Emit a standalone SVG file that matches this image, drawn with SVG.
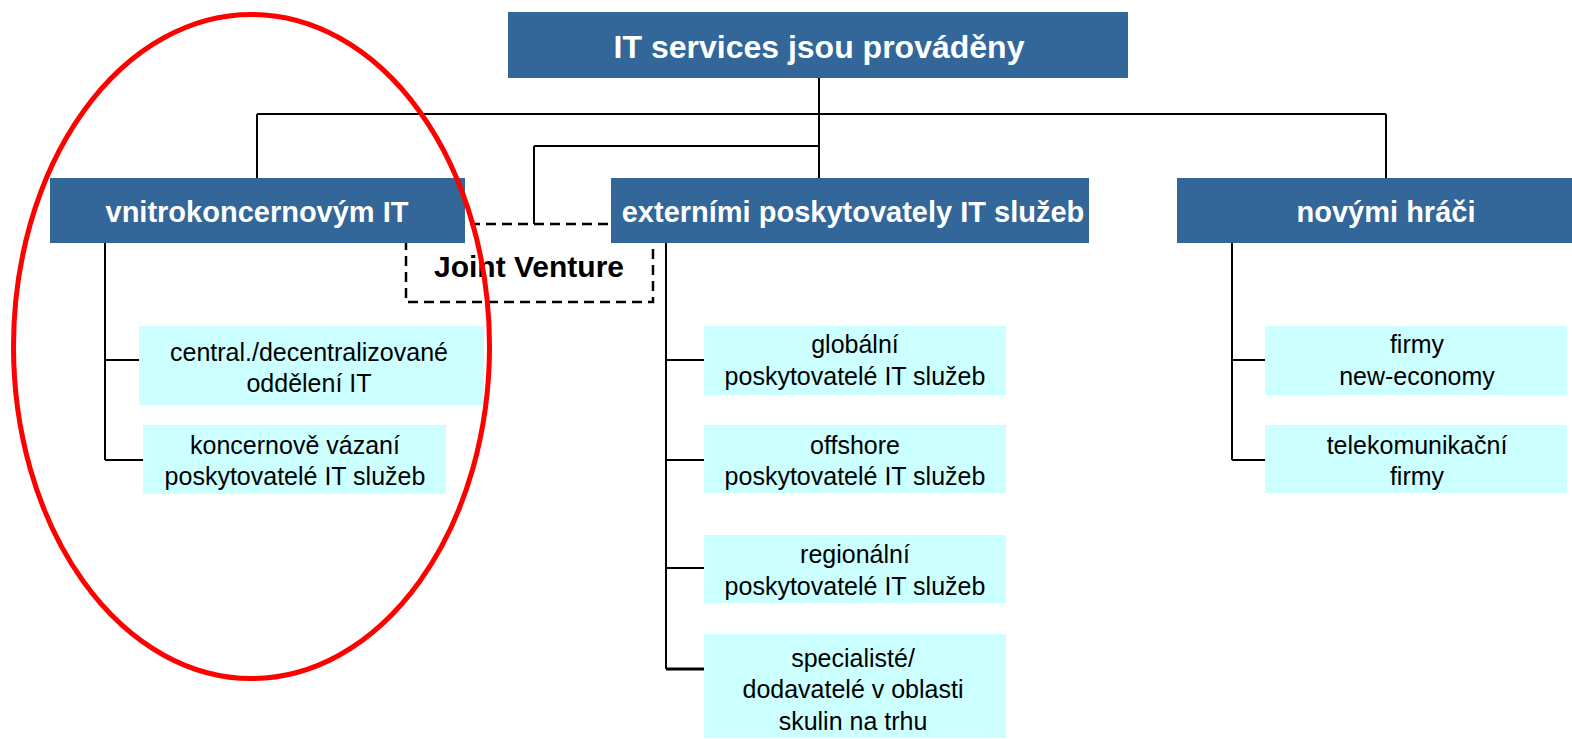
<svg xmlns="http://www.w3.org/2000/svg" width="1572" height="739" viewBox="0 0 1572 739">
<style>
.blue{fill:#336699}
.cyan{fill:#CCFFFF}
.hd{font-family:"Liberation Sans",Arial,sans-serif;font-weight:bold;fill:#FFFFFF;text-anchor:middle}
.lb{font-family:"Liberation Sans",Arial,sans-serif;font-size:25px;fill:#000000;text-anchor:middle}
.ln{stroke:#000000;stroke-width:2;fill:none}
</style>
<rect width="1572" height="739" fill="#FFFFFF"/>
<g id="connectors" class="ln">
<path d="M819 78V178"/>
<path d="M257 114H1386"/>
<path d="M257 114V178"/>
<path d="M1386 114V178"/>
<path d="M534 146H819"/>
<path d="M534 146V224"/>
<path d="M105 243V460"/>
<path d="M105 360H139"/>
<path d="M105 460H143"/>
<path d="M666 243V669"/>
<path d="M666 360H704"/>
<path d="M666 460H704"/>
<path d="M666 568H704"/>
<path d="M666 669H704" stroke-width="3"/>
<path d="M1232 243V460"/>
<path d="M1232 360H1265"/>
<path d="M1232 460H1265"/>
</g>
<g id="joint-venture">
<rect x="406" y="224" width="247" height="78" fill="none" stroke="#000000" stroke-width="2.5" stroke-dasharray="10 6"/>
<text x="529" y="277" font-family="'Liberation Sans',Arial,sans-serif" font-weight="bold" font-size="30" text-anchor="middle">Joint Venture</text>
</g>
<g id="root">
<rect class="blue" x="508" y="12" width="620" height="66"/>
<text class="hd" x="819" y="58" font-size="32">IT services jsou prováděny</text>
</g>
<g id="vnitro">
<rect class="blue" x="50" y="178" width="415" height="65"/>
<text class="hd" x="257" y="222" font-size="29">vnitrokoncernovým IT</text>
</g>
<g id="externi">
<rect class="blue" x="611" y="178" width="478" height="65"/>
<text class="hd" x="853" y="222" font-size="29">externími poskytovately IT služeb</text>
</g>
<g id="novi">
<rect class="blue" x="1177" y="178" width="395" height="65"/>
<text class="hd" x="1386" y="222" font-size="29">novými hráči</text>
</g>
<g id="central">
<rect class="cyan" x="139" y="326" width="345" height="79"/>
<text class="lb" x="309" y="361">central./decentralizované</text>
<text class="lb" x="309" y="392">oddělení IT</text>
</g>
<g id="koncern">
<rect class="cyan" x="143" y="425" width="303" height="69"/>
<text class="lb" x="295" y="454">koncernově vázaní</text>
<text class="lb" x="295" y="485">poskytovatelé IT služeb</text>
</g>
<g id="globalni">
<rect class="cyan" x="704" y="326" width="302" height="69"/>
<text class="lb" x="855" y="353">globální</text>
<text class="lb" x="855" y="385">poskytovatelé IT služeb</text>
</g>
<g id="offshore">
<rect class="cyan" x="704" y="425" width="302" height="68"/>
<text class="lb" x="855" y="454">offshore</text>
<text class="lb" x="855" y="485">poskytovatelé IT služeb</text>
</g>
<g id="regionalni">
<rect class="cyan" x="704" y="535" width="302" height="68"/>
<text class="lb" x="855" y="563">regionální</text>
<text class="lb" x="855" y="595">poskytovatelé IT služeb</text>
</g>
<g id="specialiste">
<rect class="cyan" x="704" y="634" width="302" height="104"/>
<text class="lb" x="853" y="667">specialisté/</text>
<text class="lb" x="853" y="698">dodavatelé v oblasti</text>
<text class="lb" x="853" y="730">skulin na trhu</text>
</g>
<g id="firmy">
<rect class="cyan" x="1265" y="326" width="302" height="69"/>
<text class="lb" x="1417" y="353">firmy</text>
<text class="lb" x="1417" y="385">new-economy</text>
</g>
<g id="telekom">
<rect class="cyan" x="1265" y="425" width="302" height="68"/>
<text class="lb" x="1417" y="454">telekomunikační</text>
<text class="lb" x="1417" y="485">firmy</text>
</g>
<ellipse id="highlight" cx="251.5" cy="346.5" rx="238" ry="332" fill="none" stroke="#FF0000" stroke-width="5"/>
</svg>
